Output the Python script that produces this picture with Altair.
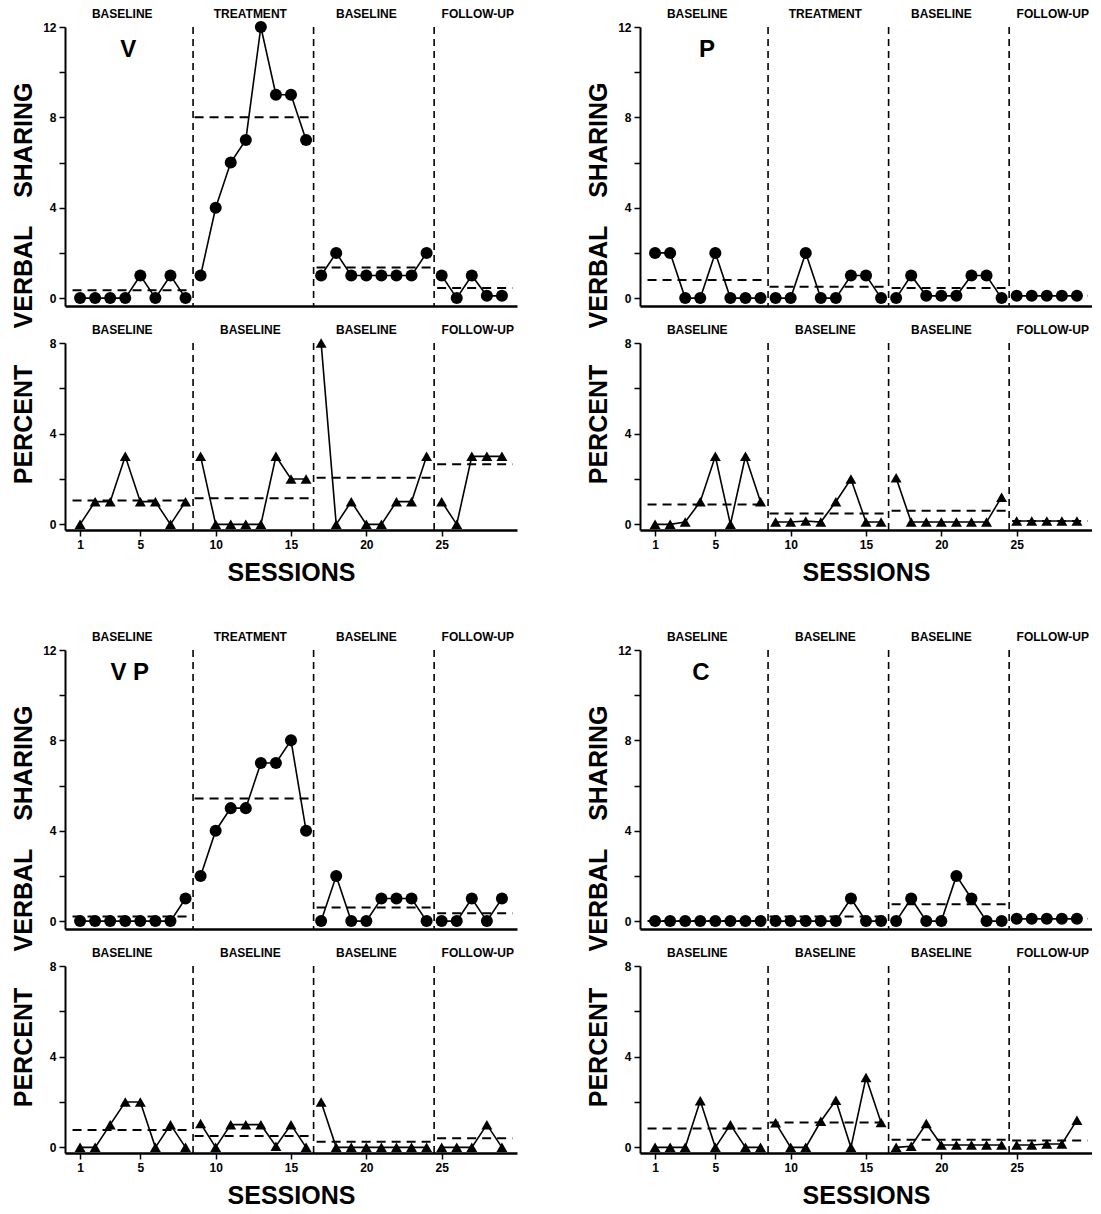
import altair as alt
import pandas as pd

# ---------------- data ----------------
sessions = list(range(1, 30))
phase_bounds = [8.5, 16.5, 24.5]
mean_x1 = [0.5, 8.6, 16.7, 24.7]
mean_x2 = [8.3, 16.4, 24.3, 29.7]
label_x = [3.8, 12.3, 20.0, 27.4]

labels_treat = ["BASELINE", "TREATMENT", "BASELINE", "FOLLOW-UP"]
labels_base = ["BASELINE", "BASELINE", "BASELINE", "FOLLOW-UP"]

V_top = [0, 0, 0, 0, 1, 0, 1, 0, 1, 4, 6, 7, 12, 9, 9, 7, 1, 2, 1, 1, 1, 1, 1, 2, 1, 0, 1, 0.1, 0.1]
V_top_means = [0.35, 8.0, 1.35, 0.45]
V_bot = [0, 1, 1, 3, 1, 1, 0, 1, 3, 0, 0, 0, 0, 3, 2, 2, 8, 0, 1, 0, 0, 1, 1, 3, 1, 0, 3, 3, 3]
V_bot_means = [1.05, 1.15, 2.05, 2.65]

P_top = [2, 2, 0, 0, 2, 0, 0, 0, 0, 0, 2, 0, 0, 1, 1, 0, 0, 1, 0.1, 0.1, 0.1, 1, 1, 0, 0.1, 0.1, 0.1, 0.1, 0.1]
P_top_means = [0.8, 0.5, 0.45, 0.1]
P_bot = [0, 0, 0.1, 1, 3, 0, 3, 1, 0.1, 0.1, 0.15, 0.1, 1, 2, 0.1, 0.1, 2.05, 0.1, 0.1, 0.1, 0.1, 0.1, 0.1, 1.2,
         0.15, 0.15, 0.15, 0.15, 0.15]
P_bot_means = [0.88, 0.48, 0.6, 0.15]

VP_top = [0, 0, 0, 0, 0, 0, 0, 1, 2, 4, 5, 5, 7, 7, 8, 4, 0, 2, 0, 0, 1, 1, 1, 0, 0, 0, 1, 0, 1]
VP_top_means = [0.2, 5.43, 0.6, 0.35]
VP_bot = [0, 0, 1, 2, 2, 0, 1, 0, 1.05, 0, 1, 1, 1, 0.05, 1, 0, 2, 0, 0, 0, 0, 0, 0, 0, 0, 0, 0, 1, 0]
VP_bot_means = [0.77, 0.5, 0.25, 0.4]

C_top = [0, 0, 0, 0, 0, 0, 0, 0, 0, 0, 0, 0, 0, 1, 0, 0, 0, 1, 0, 0, 2, 1, 0, 0, 0.1, 0.1, 0.1, 0.1, 0.1]
C_top_means = [0.0, 0.2, 0.75, 0.1]
C_bot = [0, 0, 0, 2.05, 0, 1, 0, 0, 1.08, 0, 0, 1.15, 2.08, 0, 3.08, 1.1, 0, 0.05, 1.05, 0.1, 0.1, 0.1, 0.1, 0.1,
         0.1, 0.1, 0.15, 0.15, 1.2]
C_bot_means = [0.83, 1.1, 0.33, 0.3]

group_letters = ["V", "P", "V P", "C"]
letter_pos = [4.2, 4.45, 4.3, 4.05]
letter_val = 11.0

FONT = "Liberation Sans"

TOP_H, BOT_H, W = 279, 187, 452
TOP_DOM, BOT_DOM = [-0.35, 12], [-0.25, 8]


def phase_of(s):
    return 0 if s <= 8 else 1 if s <= 16 else 2 if s <= 24 else 3


def panel(values, means, labels, top, letter=None, lpos=None):
    dom = TOP_DOM if top else BOT_DOM
    if top:
        xaxis = alt.Axis(title=None, labels=False, ticks=False, domainWidth=2.5)
        yaxis = alt.Axis(title="VERBAL\u00a0\u00a0\u00a0\u00a0SHARING", values=[0, 2, 4, 6, 8, 10, 12],
                         labelExpr="datum.value % 4 == 0 ? datum.label : ''",
                         titleX=-29, titleY=178, titleAngle=270, titleBaseline="bottom")
    else:
        xaxis = alt.Axis(title="SESSIONS", values=[1, 5, 10, 15, 20, 25], tickSize=6, labelPadding=3,
                         titlePadding=10, labelFlush=False, domainWidth=2.5)
        yaxis = alt.Axis(title="PERCENT", values=[0, 2, 4, 6, 8],
                         labelExpr="datum.value % 4 == 0 ? datum.label : ''",
                         titleX=-29, titleY=81, titleAngle=270, titleBaseline="bottom")
    xs = alt.Scale(domain=[0, 30], nice=False, zero=False)
    ys = alt.Scale(domain=dom, nice=False, zero=False)

    def X(f="session"):
        return alt.X(f + ":Q", scale=xs, axis=xaxis)

    def Y(f="value"):
        return alt.Y(f + ":Q", scale=ys, axis=yaxis)

    df = pd.DataFrame({"session": sessions, "value": values, "phase": [phase_of(s) for s in sessions]})
    pl = pd.DataFrame({"session": phase_bounds, "value": [dom[1]] * 3, "value2": [dom[0]] * 3})
    md = pd.DataFrame({"session": mean_x1, "session2": mean_x2, "value": means})
    ld = pd.DataFrame({"session": label_x, "value": [dom[1]] * 4, "t": labels})

    rules = alt.Chart(pl).mark_rule(color="black", strokeWidth=1.6, strokeDash=[7, 5]).encode(
        x=X(), y=Y(), y2="value2:Q")
    mrules = alt.Chart(md).mark_rule(color="black", strokeWidth=2, strokeDash=[9, 6]).encode(
        x=X(), x2="session2:Q", y=Y())
    line = alt.Chart(df).mark_line(color="black", strokeWidth=1.6).encode(x=X(), y=Y(), detail="phase:N")
    pts = alt.Chart(df).mark_point(filled=True, opacity=1, color="black",
                                   shape="circle" if top else "triangle-up",
                                   size=145 if top else 120).encode(x=X(), y=Y())
    txt = alt.Chart(ld).mark_text(font=FONT, fontWeight="bold", fontSize=12, color="black",
                                  baseline="middle", dy=-13).encode(x=X(), y=Y(), text="t:N")
    layers = [rules, mrules, line, pts, txt]
    if letter is not None:
        lt = pd.DataFrame({"session": [lpos], "value": [letter_val], "t": [letter]})
        layers.append(alt.Chart(lt).mark_text(font=FONT, fontWeight="bold", fontSize=24, color="black",
                                              baseline="middle").encode(x=X(), y=Y(), text="t:N"))
    return alt.layer(*layers).properties(width=W, height=TOP_H if top else BOT_H)


def group(i, tv, tm, tl, bv, bm):
    return alt.vconcat(panel(tv, tm, tl, True, group_letters[i], letter_pos[i]),
                       panel(bv, bm, labels_base, False), spacing=37, bounds="flush")


gV = group(0, V_top, V_top_means, labels_treat, V_bot, V_bot_means)
gP = group(1, P_top, P_top_means, labels_treat, P_bot, P_bot_means)
gVP = group(2, VP_top, VP_top_means, labels_treat, VP_bot, VP_bot_means)
gC = group(3, C_top, C_top_means, labels_base, C_bot, C_bot_means)

row1 = alt.hconcat(gV, gP, spacing=68)
row2 = alt.hconcat(gVP, gC, spacing=68)

chart = alt.vconcat(row1, row2, spacing=46).properties(
    padding={"left": 2, "top": 0, "right": 0, "bottom": 0}
).configure_view(stroke=None).configure_axis(
    grid=False, domainColor="black", domainWidth=2, tickColor="black", tickWidth=1.5, tickSize=6,
    labelColor="black", labelFont=FONT, labelFontWeight="bold", labelFontSize=12, labelPadding=3,
    titleColor="black", titleFont=FONT, titleFontWeight="bold", titleFontSize=25
)

chart.save("out.html", embed_options={"renderer": "svg", "actions": False})
